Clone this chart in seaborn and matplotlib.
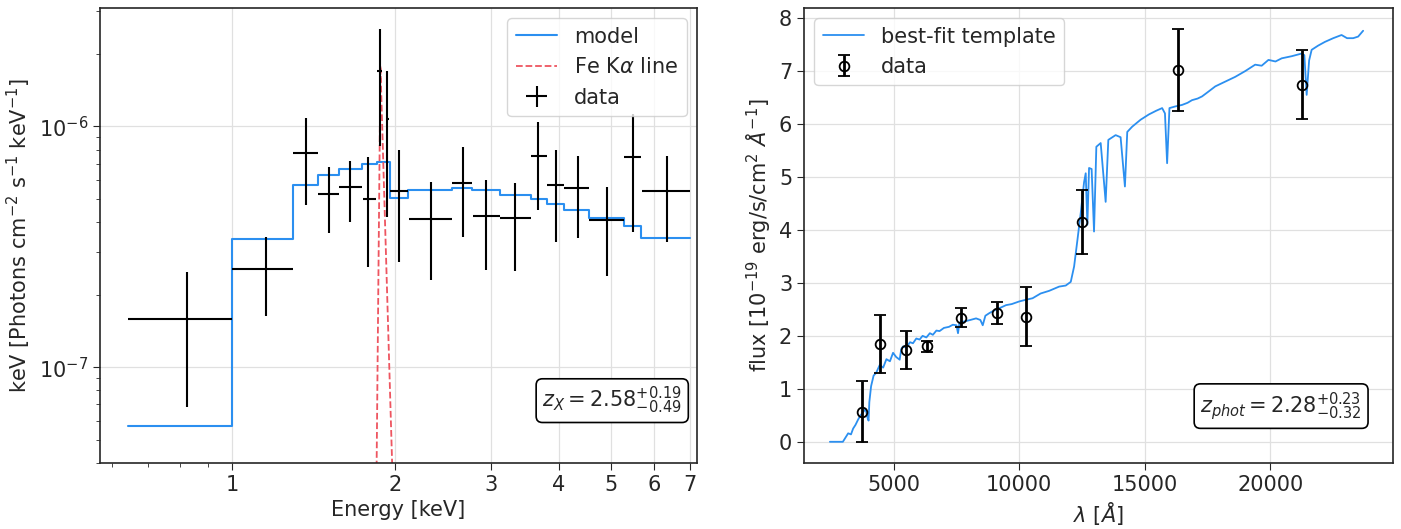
import numpy as np
import pandas as pd
import seaborn as sns
import matplotlib
matplotlib.use("Agg")
import matplotlib.pyplot as plt
from matplotlib.ticker import FixedLocator, NullFormatter, LogFormatterMathtext, LogLocator

# ---- X-ray spectrum (left) ----
xray_energy = [0.826, 1.155, 1.37, 1.51, 1.65, 1.78, 1.876, 1.93, 2.03, 2.33,
               2.66, 2.94, 3.33, 3.67, 3.95, 4.34, 4.91, 5.48, 6.33]
xray_elo = [0.642, 1.0, 1.296, 1.44, 1.576, 1.745, 1.848, 1.918, 1.95, 2.12,
            2.54, 2.78, 3.12, 3.55, 3.80, 4.10, 4.56, 5.27, 5.69]
xray_ehi = [1.0, 1.296, 1.44, 1.576, 1.738, 1.84, 1.89, 1.945, 2.11, 2.54,
            2.77, 3.12, 3.55, 3.80, 4.09, 4.56, 5.27, 5.67, 6.98]
xray_flux = [1.58e-7, 2.56e-7, 7.72e-7, 5.26e-7, 5.62e-7, 5.01e-7, 1.69e-6, 1.07e-6,
             5.41e-7, 4.14e-7, 5.84e-7, 4.26e-7, 4.18e-7, 7.5e-7, 5.68e-7, 5.52e-7,
             4.1e-7, 7.43e-7, 5.41e-7]
xray_hi = [2.49e-7, 3.48e-7, 1.08e-6, 6.8e-7, 7.15e-7, 7.43e-7, 2.54e-6, 1.69e-6,
           8.0e-7, 5.9e-7, 8.2e-7, 6.0e-7, 5.79e-7, 1.04e-6, 7.94e-7, 7.5e-7,
           5.62e-7, 1.12e-6, 7.5e-7]
xray_lo = [6.8e-8, 1.63e-7, 4.73e-7, 3.6e-7, 4.02e-7, 2.61e-7, 8.25e-7, 4.22e-7,
           2.74e-7, 2.30e-7, 3.48e-7, 2.54e-7, 2.51e-7, 4.51e-7, 3.32e-7, 3.45e-7,
           2.39e-7, 3.65e-7, 3.32e-7]

model_edges = [0.642, 1.0, 1.296, 1.44, 1.576, 1.738, 1.845, 1.95, 2.11, 2.54,
               2.77, 3.12, 3.55, 3.80, 4.09, 4.56, 5.27, 5.67, 6.98]
model_flux = [5.68e-8, 3.41e-7, 5.73e-7, 6.25e-7, 6.68e-7, 6.95e-7, 7.08e-7, 5.06e-7,
              5.45e-7, 5.55e-7, 5.45e-7, 5.2e-7, 4.97e-7, 4.75e-7, 4.5e-7, 4.15e-7,
              3.85e-7, 3.43e-7]

fe_energy = [1.845, 1.876, 1.975]
fe_flux = [3.5e-8, 1.78e-6, 3.5e-8]

# ---- SED (right) ----
sed_lam = [3730, 4444, 5476, 6310, 7698, 9127, 10278, 12500, 16310, 21270]
sed_flux = [0.57, 1.85, 1.74, 1.80, 2.34, 2.43, 2.36, 4.15, 7.02, 6.74]
sed_err = [0.58, 0.55, 0.36, 0.10, 0.18, 0.21, 0.56, 0.60, 0.78, 0.65]

tpl_lam = [2460, 2976, 3187, 3300, 3385, 3480, 3583, 3680, 3782, 3880, 3960, 4000,
           4030, 4100, 4200, 4300, 4444, 4580, 4710, 4850, 4974, 5100, 5238, 5300,
           5370, 5500, 5650, 5767, 5900, 6032, 6150, 6300, 6440, 6560, 6700, 6825,
           7000, 7200, 7354, 7500, 7560, 7619, 7700, 7884, 8050, 8280, 8450, 8545,
           8650, 8810, 9000, 9200, 9472, 9700, 10000, 10250, 10529, 10850, 11190,
           11587, 11850, 12050, 12183, 12315, 12447, 12579, 12645, 12711, 12778,
           12880, 12976, 13068, 13241, 13439, 13545, 13836, 14034, 14206, 14299,
           14497, 14829, 15159, 15450, 15688, 15800, 15886, 15979, 16200, 16481,
           16700, 16878, 17100, 17275, 17500, 17804, 18200, 18598, 19000, 19392,
           19650, 19921, 20200, 20450, 20850, 21243, 21350, 21442, 21540, 21640,
           21900, 22169, 22500, 22831, 23050, 23294, 23492, 23690]
tpl_flux = [0.0, 0.0, 0.16, 0.14, 0.25, 0.32, 0.42, 0.50, 0.56, 0.62, 0.45, 0.40,
            0.75, 1.05, 1.25, 1.30, 1.45, 1.40, 1.56, 1.52, 1.68, 1.60, 1.55, 1.75,
            1.80, 1.78, 1.88, 1.86, 1.95, 1.93, 2.00, 1.97, 2.05, 2.02, 2.10, 2.09,
            2.15, 2.17, 2.21, 2.20, 2.05, 2.25, 2.26, 2.28, 2.30, 2.33, 2.30, 2.20,
            2.38, 2.43, 2.48, 2.52, 2.58, 2.60, 2.65, 2.68, 2.71, 2.80, 2.85,
            2.93, 2.95, 3.02, 3.31, 3.81, 4.32, 4.90, 5.07, 4.10, 5.17,
            5.15, 3.97, 5.57, 5.64, 4.53, 5.70, 5.79, 5.75, 4.82, 5.85,
            5.95, 6.08, 6.18, 6.25, 6.30, 6.20, 5.26, 6.30, 6.33, 6.36,
            6.40, 6.45, 6.48, 6.52, 6.60, 6.71, 6.80, 6.89, 7.00, 7.12,
            7.10, 7.21, 7.18, 7.24, 7.28, 7.33, 7.30, 6.55, 7.20, 7.40,
            7.48, 7.55, 7.62, 7.68, 7.62, 7.62, 7.65, 7.76]

blue = "#2b8ff0"
red = "#ee5560"
fs = 15

sns.set_style("ticks")
plt.rcParams.update({
    "font.size": fs,
    "axes.edgecolor": "0.15",
    "axes.linewidth": 1.2,
    "xtick.direction": "out",
    "ytick.direction": "out",
    "xtick.major.size": 5,
    "ytick.major.size": 5,
    "xtick.minor.size": 3,
    "ytick.minor.size": 3,
})

fig = plt.figure(figsize=(14.01, 5.29), dpi=100)
ax1 = fig.add_axes([0.0714, 0.1248, 0.4261, 0.8601])
ax2 = fig.add_axes([0.5739, 0.1248, 0.4204, 0.8601])

# left panel
model_df = pd.DataFrame({"E": model_edges, "F": model_flux + [model_flux[-1]]})
sns.lineplot(data=model_df, x="E", y="F", ax=ax1, color=blue, lw=1.5,
             drawstyle="steps-post", estimator=None, label="model")
sns.lineplot(x=fe_energy, y=fe_flux, ax=ax1, color=red, lw=1.3, ls="--",
             estimator=None, label=r"Fe K$\alpha$ line")
xe = np.array(xray_energy)
fx = np.array(xray_flux)
ax1.errorbar(xe, fx,
             xerr=[xe - np.array(xray_elo), np.array(xray_ehi) - xe],
             yerr=[fx - np.array(xray_lo), np.array(xray_hi) - fx],
             fmt="none", ecolor="black", elinewidth=1.5, label="data")
ax1.set_xscale("log")
ax1.set_yscale("log")
ax1.set_xlim(0.57, 7.2)
ax1.set_ylim(4e-8, 3.1e-6)
ax1.xaxis.set_major_locator(FixedLocator([1, 2, 3, 4, 5, 6, 7]))
ax1.set_xticklabels(["1", "2", "3", "4", "5", "6", "7"])
ax1.xaxis.set_minor_locator(FixedLocator([0.6, 0.7, 0.8, 0.9]))
ax1.xaxis.set_minor_formatter(NullFormatter())
ax1.yaxis.set_major_locator(LogLocator(base=10))
ax1.yaxis.set_major_formatter(LogFormatterMathtext())
ax1.yaxis.set_minor_locator(LogLocator(base=10, subs=np.arange(2, 10)))
ax1.yaxis.set_minor_formatter(NullFormatter())
ax1.grid(True, which="major", color="0.88", lw=0.9)
ax1.set_xlabel("Energy [keV]", fontsize=fs)
ax1.set_ylabel(r"keV [Photons cm$^{-2}$ s$^{-1}$ keV$^{-1}$]", fontsize=fs)
ax1.legend(loc="upper right", fontsize=fs)
ax1.text(0.975, 0.137, r"$z_X = 2.58^{+0.19}_{-0.49}$", transform=ax1.transAxes,
         ha="right", va="center", fontsize=fs,
         bbox=dict(boxstyle="round,pad=0.3", fc="white", ec="black", lw=1.2))

# right panel
sns.lineplot(x=tpl_lam, y=tpl_flux, ax=ax2, color=blue, lw=1.3,
             estimator=None, sort=False, label="best-fit template")
ax2.errorbar(sed_lam, sed_flux, yerr=sed_err, fmt="o", mfc="none", mec="black",
             ms=7, mew=1.3, ecolor="black", elinewidth=2, capsize=4, capthick=1.5,
             label="data")
ax2.set_xlim(1430, 24880)
ax2.set_ylim(-0.4, 8.19)
ax2.set_xticks([5000, 10000, 15000, 20000])
ax2.set_yticks(range(0, 9))
ax2.grid(True, color="0.88", lw=0.9)
ax2.set_xlabel(r"$\lambda$ [$\AA$]", fontsize=fs)
ax2.set_ylabel(r"flux [10$^{-19}$ erg/s/cm$^2$ $\AA^{-1}$]", fontsize=fs)
ax2.legend(loc="upper left", fontsize=fs)
ax2.text(0.947, 0.125, r"$z_{phot} = 2.28^{+0.23}_{-0.32}$", transform=ax2.transAxes,
         ha="right", va="center", fontsize=fs,
         bbox=dict(boxstyle="round,pad=0.3", fc="white", ec="black", lw=1.2))

for ax in (ax1, ax2):
    ax.tick_params(labelsize=fs)

fig.savefig("out.png", dpi=100)
